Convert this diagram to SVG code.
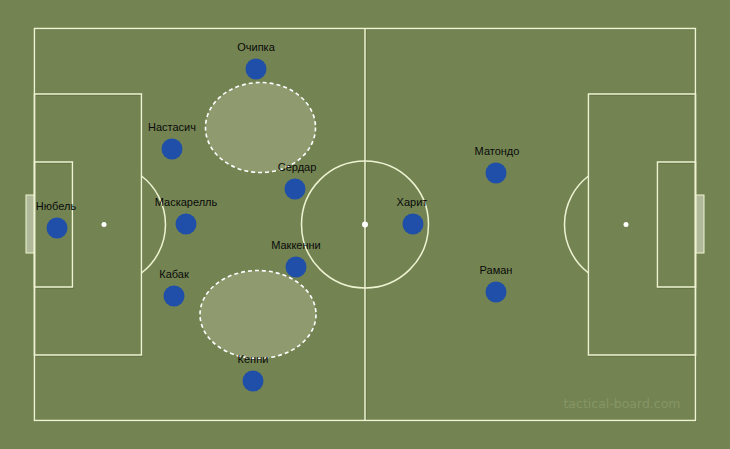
<svg xmlns="http://www.w3.org/2000/svg" width="730" height="449" viewBox="0 0 730 449">
<style>
.ln{fill:none;stroke:#eef3d2;stroke-width:1.5}
.sh{fill:none;stroke:#5c6b3e;stroke-width:1.5}
.pl{fill:#1f4fa8}
.lb{font-family:"Liberation Sans",Arial,sans-serif;font-size:11px;fill:#0a0a0a;text-anchor:middle}
.zone{fill:#8f9b6f;stroke:#ffffff;stroke-width:1.6;stroke-dasharray:4 3}
.goal{fill:#b0b99a;stroke:#eef3d2;stroke-width:1}
</style>
<rect x="0" y="0" width="730" height="449" fill="#738452"/>
<g id="pitch">
<g transform="translate(0.7,0.8)" class="sh">
<rect x="34.5" y="28.5" width="661" height="392"/>
<line x1="365" y1="28.5" x2="365" y2="420.5"/>
<rect x="34.5" y="94" width="107" height="261"/>
<rect x="34.5" y="162" width="38" height="125"/>
<rect x="588.5" y="94" width="107" height="261"/>
<rect x="657.5" y="162" width="38" height="125"/>
</g>
<rect class="goal" x="26" y="195" width="8.5" height="58"/>
<rect class="goal" x="695.5" y="195" width="8.5" height="58"/>
<rect class="ln" x="34.5" y="28.5" width="661" height="392"/>
<line class="ln" x1="365" y1="28.5" x2="365" y2="420.5"/>
<circle class="ln" cx="365" cy="224.5" r="63.5"/>
<circle cx="365" cy="224.5" r="3" fill="#fff"/>
<rect class="ln" x="34.5" y="94" width="107" height="261"/>
<rect class="ln" x="34.5" y="162" width="38" height="125"/>
<circle cx="104" cy="224.5" r="2.5" fill="#fff"/>
<path class="ln" d="M141.5 176 A61 61 0 0 1 141.5 273"/>
<rect class="ln" x="588.5" y="94" width="107" height="261"/>
<rect class="ln" x="657.5" y="162" width="38" height="125"/>
<circle cx="626" cy="224.5" r="2.5" fill="#fff"/>
<path class="ln" d="M588.5 176 A61 61 0 0 0 588.5 273"/>
</g>
<g id="zones">
<ellipse class="zone" cx="260.5" cy="127.5" rx="55" ry="45"/>
<ellipse class="zone" cx="258" cy="314.5" rx="58" ry="44"/>
</g>
<g id="connectors"></g>
<g id="p-ochipka"><circle class="pl" cx="256" cy="69" r="10.5"/><text class="lb" x="256" y="51">Очипка</text></g>
<g id="p-nastasich"><circle class="pl" cx="172" cy="149" r="10.5"/><text class="lb" x="172" y="131">Настасич</text></g>
<g id="p-serdar"><circle class="pl" cx="295" cy="189" r="10.5"/><text class="lb" x="297" y="171">Сердар</text></g>
<g id="p-nubel"><circle class="pl" cx="57" cy="228" r="10.5"/><text class="lb" x="56" y="210">Нюбель</text></g>
<g id="p-mascarell"><circle class="pl" cx="186" cy="224" r="10.5"/><text class="lb" x="186" y="206">Маскарелль</text></g>
<g id="p-mckennie"><circle class="pl" cx="296" cy="267" r="10.5"/><text class="lb" x="296" y="249">Маккенни</text></g>
<g id="p-kabak"><circle class="pl" cx="174" cy="296" r="10.5"/><text class="lb" x="174" y="278">Кабак</text></g>
<g id="p-kenny"><circle class="pl" cx="253" cy="381" r="10.5"/><text class="lb" x="253" y="363">Кенни</text></g>
<g id="p-harit"><circle class="pl" cx="413" cy="224" r="10.5"/><text class="lb" x="412" y="206">Харит</text></g>
<g id="p-matondo"><circle class="pl" cx="496" cy="173" r="10.5"/><text class="lb" x="497" y="155">Матондо</text></g>
<g id="p-raman"><circle class="pl" cx="496" cy="292" r="10.5"/><text class="lb" x="496" y="274">Раман</text></g>
<text x="622" y="408" font-family="'DejaVu Sans',sans-serif" font-size="12.5" fill="#879565" text-anchor="middle">tactical-board.com</text>
</svg>
